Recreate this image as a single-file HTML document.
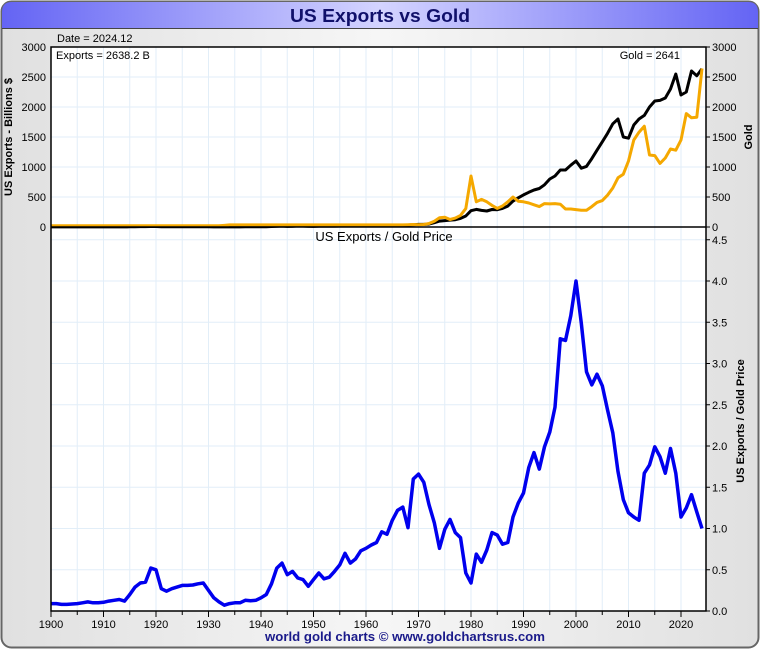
<!DOCTYPE html>
<html><head><meta charset="utf-8"><style>
body{margin:0;width:760px;height:650px;overflow:hidden;background:#fff;font-family:"Liberation Sans",sans-serif}
</style></head><body>
<svg width="760" height="650" xmlns="http://www.w3.org/2000/svg" id="chart">
<defs>
<linearGradient id="tb" x1="0" x2="1"><stop offset="0" stop-color="#6464f4"/><stop offset="0.5" stop-color="#d4d4ff"/><stop offset="1" stop-color="#6464f4"/></linearGradient>
<linearGradient id="bg" x1="0" x2="1"><stop offset="0" stop-color="#e0e0e0"/><stop offset="0.5" stop-color="#f6f6f6"/><stop offset="1" stop-color="#e0e0e0"/></linearGradient>
</defs>
<rect x="1.5" y="1.5" width="757" height="646" rx="10" fill="url(#bg)" stroke="#666" stroke-width="2"/>
<path d="M2,28 V12 Q2,2 12,2 H748 Q758,2 758,12 V28 Z" fill="url(#tb)"/>
<line x1="2" y1="28.5" x2="758" y2="28.5" stroke="#444"/>
<text x="380" y="22" text-anchor="middle" font-size="18" font-weight="bold" fill="#10106a" textLength="180" lengthAdjust="spacingAndGlyphs">US Exports vs Gold</text>
<text x="57" y="42" font-size="11" fill="#000">Date = 2024.12</text>
<rect x="51" y="47" width="655" height="564" fill="#fff"/>
<g id="grid"></g>
<g id="series"></g>
<g id="axes"></g>
<text x="405" y="641" text-anchor="middle" font-size="13" font-weight="bold" fill="#1a1a8a" textLength="280" lengthAdjust="spacingAndGlyphs">world gold charts © www.goldchartsrus.com</text>
</svg>
<script>
const years=[];for(let y=1900;y<=2024;y++)years.push(y);
const exportsB=[1.5,1.5,1.4,1.4,1.5,1.6,1.8,1.9,1.9,1.7,
1.9,2.1,2.3,2.5,2.4,2.8,5.5,6.2,6.1,7.9,
8.2,4.5,3.8,4.2,4.6,4.9,4.8,4.9,5.1,5.2,
3.8,2.4,1.6,1.7,2.1,2.3,2.4,3.3,3.1,3.2,
4,5.1,8.1,13,16,10,14,19,16,14,
10,15,15,16,15,16,19,21,18,18,
20,21,21,22,25,27,29,31,34,37,
43,44,49,71,98,107,115,121,143,184,
272,294,276,266,291,289,310,348,431,487,
535,578,616,642,703,800,850,950,950,1030,
1100,980,1010,1140,1280,1420,1560,1720,1800,1500,
1480,1700,1800,1860,2000,2100,2110,2150,2300,2550,
2200,2250,2600,2520,2638];
const goldPrice=[20.7,20.7,20.7,20.7,20.7,20.7,20.7,20.7,20.7,20.7,
20.7,20.7,20.7,20.7,20.7,20.7,20.7,20.7,20.7,20.7,
20.7,20.7,20.7,20.7,20.7,20.7,20.7,20.7,20.7,20.7,
20.7,20.7,20.7,26,35,35,35,35,35,35,
35,35,35,35,35,35,35,35,35,35,
35,35,35,35,35,35,35,35,35,35,
35,35,35,35,35,35,35,35,39,41,
36,41,58,97,154,161,125,148,193,306,
850,420,460,420,360,310,350,420,500,430,
420,400,370,340,390,385,390,380,300,300,
290,280,280,340,410,440,530,650,820,880,
1100,1450,1580,1680,1200,1190,1060,1150,1300,1280,
1450,1890,1820,1830,2641];
const ratio=[0.09,0.09,0.08,0.08,0.085,0.09,0.10,0.11,0.10,0.10,
0.105,0.12,0.13,0.14,0.12,0.2,0.29,0.34,0.35,0.52,
0.5,0.27,0.24,0.27,0.29,0.31,0.31,0.315,0.33,0.34,
0.25,0.16,0.11,0.07,0.09,0.10,0.10,0.13,0.125,0.13,
0.16,0.2,0.33,0.52,0.58,0.44,0.48,0.40,0.38,0.30,
0.38,0.46,0.39,0.41,0.48,0.56,0.70,0.58,0.63,0.73,
0.76,0.80,0.83,0.96,0.93,1.1,1.22,1.26,1.01,1.6,
1.66,1.56,1.29,1.07,0.76,0.99,1.11,0.95,0.89,0.46,
0.34,0.69,0.59,0.74,0.95,0.92,0.81,0.83,1.14,1.31,
1.43,1.74,1.92,1.72,1.99,2.17,2.47,3.3,3.28,3.58,
4.0,3.49,2.9,2.74,2.87,2.73,2.44,2.16,1.69,1.35,
1.19,1.14,1.1,1.67,1.77,1.99,1.87,1.67,1.97,1.67,
1.14,1.25,1.41,1.2,1.0];
const xTicks=[1900,1910,1920,1930,1940,1950,1960,1970,1980,1990,2000,2010,2020];
const topTicks=[0,500,1000,1500,2000,2500,3000];
const botTicks=[0,0.5,1,1.5,2,2.5,3,3.5,4,4.5];

const NS='http://www.w3.org/2000/svg';
const X0=51,X1=706;
const xs=y=>51+(y-1900)*5.25;
const yTop=v=>227-v*0.06;
const yBot=v=>611-v*82.5;
function mk(tag,attrs,parent,txt){const e=document.createElementNS(NS,tag);for(const k in attrs)e.setAttribute(k,attrs[k]);if(txt!==undefined)e.textContent=txt;document.getElementById(parent).appendChild(e);return e;}

for(let y=1900;y<=2025;y+=5){const x=xs(y);if(x>X1)break;
 const g=mk('line',{x1:x,x2:x,y1:47,y2:611,stroke:'#e2eef8','stroke-width':1},'grid');
 
 }
topTicks.forEach(v=>{const l=mk('line',{x1:X0,x2:X1,y1:yTop(v),y2:yTop(v),stroke:'#e2eef8'},'grid');
 
 });
botTicks.forEach(v=>{const l=mk('line',{x1:X0,x2:X1,y1:yBot(v),y2:yBot(v),stroke:'#e2eef8'},'grid');
 
 });

function path(arr,fy){return arr.map((v,i)=>(i?'L':'M')+xs(years[i]).toFixed(1)+','+fy(v).toFixed(1)).join(' ');}
const pe=mk('path',{d:path(exportsB,yTop),fill:'none',stroke:'#000','stroke-width':3,'stroke-linejoin':'round'},'series');


const pg=mk('path',{d:path(goldPrice,yTop),fill:'none',stroke:'#f5a800','stroke-width':3,'stroke-linejoin':'round'},'series');


const pr=mk('path',{d:path(ratio,yBot),fill:'none',stroke:'#0000ee','stroke-width':3.5,'stroke-linejoin':'round'},'series');



const fr=mk('rect',{x:X0,y:47,width:X1-X0,height:564,fill:'none',stroke:'#000','stroke-width':1.5},'axes');


const dv=mk('line',{x1:X0,x2:X1,y1:227,y2:227,stroke:'#000','stroke-width':1.5},'axes');


topTicks.forEach(v=>{
 const a=mk('text',{x:46,y:yTop(v)+4,'text-anchor':'end','font-size':11},'axes',String(v));
 
 
 const b=mk('text',{x:712,y:yTop(v)+4,'font-size':11},'axes',String(v));
 
 
 const t=mk('line',{x1:X1,x2:X1+4,y1:yTop(v),y2:yTop(v),stroke:'#000'},'axes');
 
 
});
botTicks.forEach(v=>{
 const b=mk('text',{x:712,y:yBot(v)+4,'font-size':11},'axes',v.toFixed(1));
 
 
 const t=mk('line',{x1:X1,x2:X1+4,y1:yBot(v),y2:yBot(v),stroke:'#000'},'axes');
 
 
});
for(let y=1900;y<=2024;y+=5){
 const t=mk('line',{x1:xs(y),x2:xs(y),y1:611,y2:y%10===0?617:615,stroke:'#000'},'axes');
 
 }
xTicks.forEach(y=>{
 const t=mk('text',{x:xs(y),y:628,'text-anchor':'middle','font-size':11},'axes',String(y));
 
 });
const labels=[
 ['text',{x:56,y:59,'font-size':11},'Exports = 2638.2 B','exports-value-label'],
 ['text',{x:680,y:59,'font-size':11,'text-anchor':'end'},'Gold = 2641','gold-value-label'],
 ['text',{x:384,y:241,'font-size':13,'text-anchor':'middle'},'US Exports / Gold Price','bottom-panel-title'],
 ['text',{x:12,y:137,'font-size':11,'font-weight':'bold','text-anchor':'middle',transform:'rotate(-90 12 137)'},'US Exports - Billions $','left-axis-title'],
 ['text',{x:752,y:137,'font-size':11,'font-weight':'bold','text-anchor':'middle',transform:'rotate(-90 752 137)'},'Gold','right-axis-title'],
 ['text',{x:744,y:421,'font-size':11,'font-weight':'bold','text-anchor':'middle',transform:'rotate(-90 744 421)'},'US Exports / Gold Price','ratio-axis-title']
];
labels.forEach(l=>{const e=mk(l[0],l[1],'axes',l[2]);
 
 });
</script>
</body></html>
